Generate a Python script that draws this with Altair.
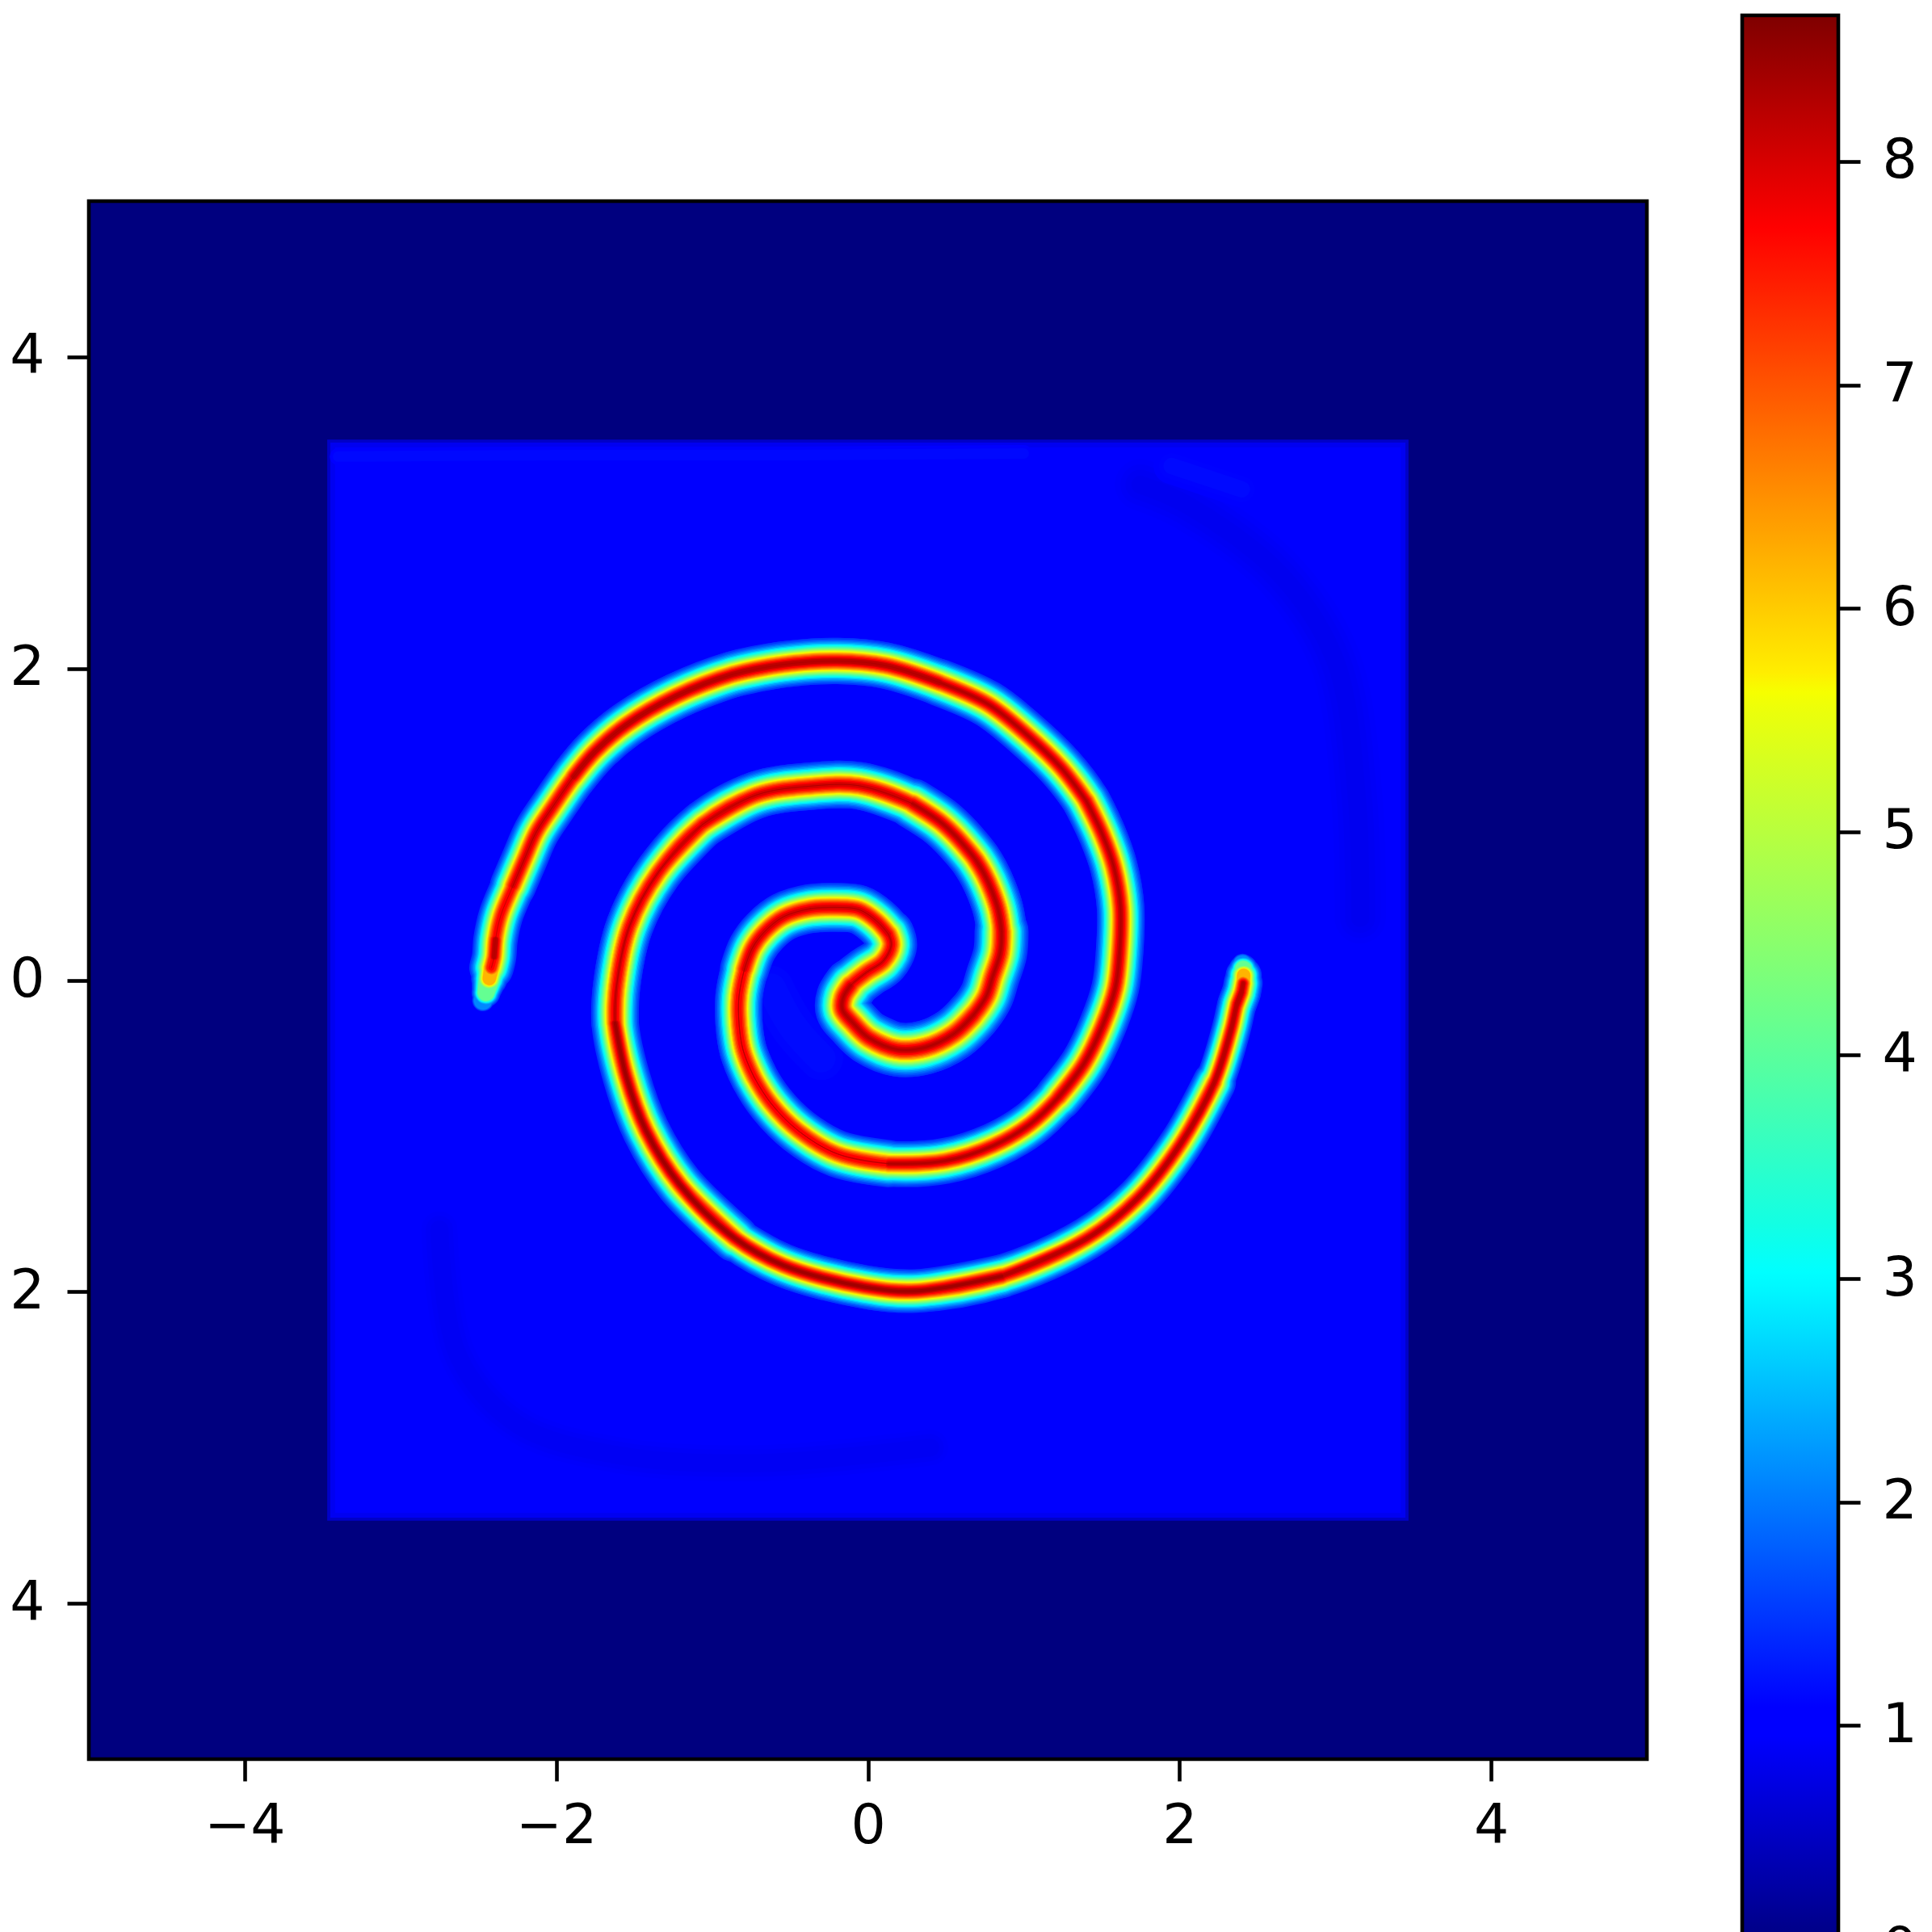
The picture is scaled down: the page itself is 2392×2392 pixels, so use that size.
import altair as alt
import pandas as pd

# Spine of the S-shaped density ridge, from the left tip to the right tip.
spine_x = [-2.470,-2.451,-2.430,-2.416,-2.399,-2.390,-2.356,-2.313,-2.278,-2.243,-2.204,-2.166,-2.128,-2.088,-2.027,-1.976,-1.889,-1.829,-1.750,-1.673,
 -1.551,-1.421,-1.231,-1.023,-0.870,-0.714,-0.541,-0.369,-0.196,-0.058,0.115,0.288,0.460,0.634,0.771,0.875,1.013,1.134,1.238,1.342,
 1.402,1.463,1.506,1.549,1.579,1.604,1.622,1.627,1.615,1.593,1.588,1.560,1.506,1.442,1.388,1.306,1.224,1.169,1.042,0.915,
 0.806,0.678,0.497,0.315,0.133,-0.049,-0.196,-0.369,-0.446,-0.541,-0.619,-0.680,-0.731,-0.770,-0.801,-0.818,-0.827,-0.827,-0.792,-0.740,
 -0.662,-0.541,-0.369,-0.196,-0.058,0.054,0.132,0.150,0.098,-0.006,-0.111,-0.158,-0.163,-0.094,0.006,0.188,0.370,0.551,0.678,0.760,
 0.800,0.849,0.858,0.837,0.797,0.746,0.694,0.633,0.547,0.460,0.288,0.115,-0.058,-0.231,-0.369,-0.541,-0.714,-0.887,-1.060,
 -1.233,-1.345,-1.449,-1.530,-1.578,-1.612,-1.604,-1.622,-1.583,-1.550,-1.492,-1.423,-1.319,-1.207,-1.025,-0.852,-0.714,-0.541,-0.282,-0.023,
 0.042,0.315,0.588,0.860,1.133,1.406,1.588,1.733,1.879,2.006,2.133,2.224,2.288,2.333,2.369,2.397,2.409,2.412,2.410,2.405]
spine_y = [-0.130,-0.080,0.010,0.080,0.150,0.260,0.415,0.519,0.605,0.692,0.778,0.865,0.951,1.037,1.106,1.210,1.305,1.383,1.469,1.556,
 1.638,1.720,1.823,1.910,1.962,1.996,2.026,2.043,2.048,2.040,2.019,1.971,1.910,1.832,1.772,1.711,1.582,1.487,1.366,1.253,
 1.150,1.037,0.934,0.830,0.726,0.605,0.467,0.312,0.173,0.035,-0.051,-0.172,-0.293,-0.414,-0.535,-0.656,-0.751,-0.829,-0.924,-1.001,
 -1.062,-1.114,-1.160,-1.178,-1.178,-1.148,-1.115,-1.027,-0.967,-0.880,-0.794,-0.708,-0.621,-0.535,-0.448,-0.362,-0.276,-0.103,0.070,0.208,
 0.312,0.407,0.459,0.467,0.453,0.381,0.294,0.225,0.122,0.052,-0.034,-0.111,-0.189,-0.276,-0.371,-0.445,-0.431,-0.345,-0.224,-0.103,
 0.020,0.173,0.312,0.450,0.571,0.683,0.770,0.847,0.942,1.020,1.132,1.210,1.248,1.253,1.245,1.224,1.189,1.115,1.000,
 0.839,0.692,0.519,0.346,0.173,-0.034,-0.086,-0.276,-0.448,-0.621,-0.794,-0.967,-1.140,-1.312,-1.520,-1.658,-1.753,-1.831,-1.917,-1.969,
 -1.983,-1.995,-1.969,-1.900,-1.805,-1.658,-1.528,-1.399,-1.243,-1.053,-0.846,-0.656,-0.483,-0.310,-0.155,-0.080,-0.020,0.030,0.070,0.100]
spine_peak = [2.2,4.2,6.2,7.6,8.2,8.5,8.3,8.0,8.0,8.1,8.1,8.1,8.1,8.2,8.2,8.2,8.2,8.3,8.3,8.4,
 8.4,8.5,8.5,8.4,8.4,8.4,8.3,8.2,8.2,8.2,8.3,8.3,8.3,8.3,8.4,8.5,8.4,8.3,8.2,8.1,
 8.0,8.0,8.0,8.0,8.2,8.3,8.4,8.4,8.3,8.3,8.3,8.4,8.3,8.3,8.3,8.3,8.3,8.4,8.3,8.4,
 8.3,8.2,8.0,8.0,8.0,8.0,8.0,8.0,8.0,8.0,8.0,8.0,8.0,8.0,8.0,8.0,8.0,8.0,8.0,8.2,
 8.3,8.3,8.2,8.2,8.2,8.1,8.0,8.0,8.1,8.1,8.1,8.1,8.1,8.2,8.3,8.2,8.1,8.1,8.2,8.3,
 8.3,8.4,8.3,8.3,8.3,8.3,8.3,8.3,8.4,8.3,8.2,8.3,8.4,8.4,8.3,8.3,8.2,8.2,8.1,
 8.0,8.0,8.0,8.0,8.0,8.1,8.1,8.1,8.1,8.1,8.1,8.2,8.3,8.5,8.5,8.5,8.5,8.5,8.4,8.4,
 8.3,8.3,8.3,8.2,8.2,8.3,8.3,8.3,8.3,8.3,8.4,8.4,8.4,8.3,8.3,8.3,7.6,6.2,4.2,2.2]
spine_sigma = [0.030,0.040,0.050,0.055,0.056,0.056,0.058,0.060,0.062,0.064,0.064,0.064,0.064,0.064,0.064,0.064,0.064,0.064,0.064,0.064,
 0.064,0.064,0.064,0.064,0.064,0.064,0.064,0.064,0.064,0.064,0.064,0.064,0.064,0.064,0.064,0.064,0.064,0.065,0.066,0.066,
 0.066,0.066,0.066,0.066,0.066,0.066,0.066,0.066,0.066,0.066,0.062,0.062,0.062,0.062,0.062,0.062,0.062,0.062,0.062,0.062,
 0.062,0.062,0.062,0.064,0.064,0.064,0.066,0.066,0.066,0.066,0.066,0.066,0.066,0.066,0.066,0.066,0.066,0.066,0.066,0.068,
 0.068,0.068,0.068,0.068,0.068,0.068,0.068,0.070,0.070,0.070,0.072,0.072,0.072,0.075,0.075,0.075,0.075,0.075,0.075,0.072,
 0.072,0.070,0.070,0.070,0.070,0.070,0.070,0.066,0.066,0.066,0.066,0.066,0.066,0.066,0.066,0.066,0.066,0.066,0.066,
 0.066,0.066,0.066,0.066,0.066,0.066,0.066,0.066,0.060,0.060,0.060,0.060,0.060,0.060,0.060,0.060,0.060,0.060,0.060,0.060,
 0.060,0.060,0.060,0.060,0.060,0.060,0.054,0.054,0.054,0.054,0.054,0.054,0.054,0.054,0.054,0.054,0.050,0.050,0.040,0.030]

# Contour levels of the ridge, ordered from the base to the crest.
ridge_levels = [1.5,1.7,1.9,2.1,2.3,2.6,2.9,3.2,3.5,3.8,4.1,4.4,4.7,5.0,5.3,5.6,5.9,6.2,6.5,6.8,7.1,7.4,7.7,8.0,8.2,8.4]

# Faint background structure inside the square
wisp_dark_x = [1.75,2.05,2.65,3.00,3.14,3.16]
wisp_dark_y = [3.18,3.05,2.60,2.05,1.15,0.40]
wisp_low_x = [-2.75,-2.63,-2.25,-1.60,-0.70,0.40]
wisp_low_y = [-1.60,-2.41,-2.85,-3.05,-3.10,-3.00]
wisp_top_x = [-3.40,-2.00,-0.50,1.00]
wisp_top_y = [3.36,3.37,3.37,3.38]
wisp_corner_x = [1.95,2.40]
wisp_corner_y = [3.30,3.15]
halo_x = [-0.62,-0.48,-0.30]
halo_y = [-0.05,-0.30,-0.50]

# Flat areas of the field
field_extent = 5
square_edges = [3.47,3.45,3.42]
square_values = [0.55,0.85,1.0]

colorbar_top = 8.654
colorbar_ticks = [0,1,2,3,4,5,6,7,8]
axis_ticks = [-4,-2,0,2,4]

jet_offsets = [0,0.11,0.125,0.34,0.35,0.375,0.64,0.65,0.66,0.89,0.91,1]
jet_colors = ["#00007f","#0000ff","#0000ff","#00f6ff","#00ffff","#13ffe3","#ebff0b","#f6ff00","#ffee00","#ff0000","#e80000","#7f0000"]

PX = 192.9
TIP = 6       # points at each end drawn as tapering tips
WIN = 4       # spine points per drawn stretch
jet = alt.Scale(domain=[o*colorbar_top for o in jet_offsets], range=jet_colors, interpolate="rgb")
xs = alt.Scale(domain=[-field_extent, field_extent], nice=False, zero=False)
ys = alt.Scale(domain=[-field_extent, field_extent], nice=False, zero=False)
font = "DejaVu Sans"
lw = 4.6
fs = 68

x_axis = alt.Axis(values=axis_ticks, orient="bottom", title=None, grid=False, domain=False, format="d",
                  tickSize=27, tickWidth=lw, tickColor="black", labelColor="black",
                  labelFont=font, labelFontSize=fs, labelPadding=22)
y_axis = alt.Axis(values=axis_ticks, orient="left", title=None, grid=False, domain=False, format="d",
                  tickSize=27, tickWidth=lw, tickColor="black", labelColor="black",
                  labelFont=font, labelFontSize=fs, labelPadding=28)
X = alt.X("x:Q", scale=xs, axis=x_axis)
Y = alt.Y("y:Q", scale=ys, axis=y_axis)

n = len(spine_x)
# The long outer stretches use every second reading; the tight centre uses all of them.
used = [i for i in range(n) if i < TIP or i >= n - TIP or 76 <= i <= 110 or i % 2 == 0]
m = len(used)
sx = [spine_x[i] for i in used]
sy = [spine_y[i] for i in used]
sp = [spine_peak[i] for i in used]
ss = [spine_sigma[i] for i in used]
# body: overlapping stretches, each with one thickness, smoothed by the line's interpolation
rows = []
win = 0
for k in range(TIP - 1, m - TIP, WIN):
    mid = min(k + WIN // 2, m - 1)
    for j in range(max(0, k - 2), min(m, k + WIN + 3)):
        rows.append({"i": j, "win": win, "x": sx[j], "y": sy[j], "peak": sp[mid], "sigma": ss[mid]})
    win += 1
body = pd.DataFrame(rows)
tips = pd.DataFrame({"i": range(n), "x": spine_x, "y": spine_y, "peak": spine_peak, "sigma": spine_sigma})
tip_a = tips.iloc[:TIP]
tip_b = tips.iloc[n - TIP:]


def thick(base, L, crest="datum.peak"):
    return f"datum.sigma*{PX}*2*sqrt(2*log(max(1.0001,abs({crest}-{base})/abs({L}-{base}))))"


def smooth(df, base, L, detail=None):
    enc = dict(x=X, y=Y, order=alt.Order("i:Q"),
               size=alt.Size("thick:Q", scale=None),
               color=alt.Color("level:Q", scale=jet, legend=None))
    if detail:
        enc["detail"] = alt.Detail(detail)
    return (alt.Chart(df).transform_calculate(level=str(L), thick=thick(base, L))
            .mark_line(interpolate="catmull-rom", strokeCap="round", strokeJoin="round").encode(**enc))


def tip(df, L):
    return (alt.Chart(df).transform_filter(f"datum.peak>={L}")
            .transform_calculate(level=str(L), thick=thick(1.0, L, "8.45"))
            .mark_trail().encode(x=X, y=Y, order=alt.Order("i:Q"),
                                 size=alt.Size("thick:Q", scale=None),
                                 color=alt.Color("level:Q", scale=jet, legend=None)))


def wisp(xv, yv, sigma, peak, levels):
    d = pd.DataFrame({"i": range(len(xv)), "x": xv, "y": yv, "peak": [peak]*len(xv), "sigma": [sigma]*len(xv)})
    return [smooth(d, 1.0, L) for L in levels]


def square(half, value):
    d = pd.DataFrame({"a": [-half], "b": [half], "v": [value]})
    return alt.Chart(d).mark_rect().encode(
        x=alt.X("a:Q", scale=xs, axis=x_axis), x2="b:Q",
        y=alt.Y("a:Q", scale=ys, axis=y_axis), y2="b:Q",
        color=alt.Color("v:Q", scale=jet, legend=None))


layers = [square(field_extent, 0.0)]
layers += [square(h, v) for h, v in zip(square_edges, square_values)]
layers += wisp(wisp_dark_x, wisp_dark_y, 0.12, 0.82, [0.96,0.93,0.9,0.87,0.84])
layers += wisp(wisp_low_x, wisp_low_y, 0.09, 0.84, [0.96,0.93,0.9,0.87])
layers += wisp(wisp_top_x, wisp_top_y, 0.04, 1.2, [1.08,1.14])
layers += wisp(wisp_corner_x, wisp_corner_y, 0.07, 1.2, [1.05,1.1,1.15])
layers += wisp(halo_x, halo_y, 0.14, 1.2, [1.04,1.08,1.12,1.16])
for L in ridge_levels:
    layers.append(smooth(body, 1.0, L, "win:N"))
    layers.append(tip(tip_a, L))
    layers.append(tip(tip_b, L))

frame_d = pd.DataFrame({"a": [-field_extent], "b": [field_extent]})
frame = alt.Chart(frame_d).mark_rect(fill=None, stroke="black", strokeWidth=lw).encode(
    x=alt.X("a:Q", scale=xs, axis=x_axis), x2="b:Q",
    y=alt.Y("a:Q", scale=ys, axis=y_axis), y2="b:Q")
layers.append(frame)

main = alt.layer(*layers).properties(width=1929, height=1929)

spacer = alt.Chart(pd.DataFrame({"a": [0]})).mark_point(opacity=0).encode(
    x=alt.value(0), y=alt.value(0)).properties(width=100, height=227)

gradient = alt.Gradient(gradient="linear", x1=0, x2=0, y1=1, y2=0,
                        stops=[alt.GradientStop(offset=o, color=c) for o, c in zip(jet_offsets, jet_colors)])
cbar_d = pd.DataFrame({"lo": [0.0], "hi": [colorbar_top]})
cbar = alt.Chart(cbar_d).mark_rect(color=gradient, stroke="black", strokeWidth=lw).encode(
    x=alt.value(0), x2=alt.value(119),
    y=alt.Y("lo:Q", scale=alt.Scale(domain=[0, colorbar_top], nice=False, zero=False),
            axis=alt.Axis(values=colorbar_ticks, orient="right", title=None, grid=False, domain=False, format="d",
                          tickSize=27, tickWidth=lw, tickColor="black", labelColor="black",
                          labelFont=font, labelFontSize=fs, labelPadding=27)),
    y2="hi:Q").properties(width=119, height=2394)

chart = alt.hconcat(alt.vconcat(spacer, main, spacing=0), cbar, spacing=112).properties(
    padding={"left": -54, "top": 8, "right": 0, "bottom": -53},
    background="white"
).configure_view(stroke=None, strokeWidth=0)

chart.save("out.html", embed_options={"renderer": "svg", "actions": False})
